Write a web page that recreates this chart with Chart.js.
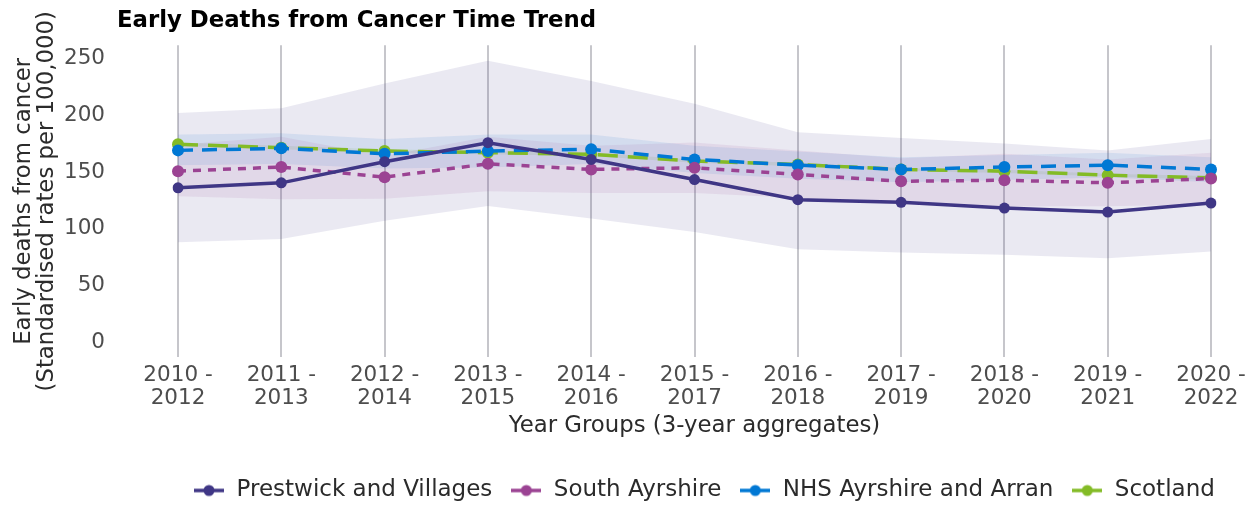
<!DOCTYPE html>
<html>
<head>
<meta charset="utf-8">
<script src="https://cdn.jsdelivr.net/npm/chart.js@4.4.1/dist/chart.umd.min.js"></script>
<style>
  html, body { margin: 0; padding: 0; background: #fff; }
  #wrap { width: 1258px; height: 506px; position: relative; }
</style>
</head>
<body>
<div id="wrap"><canvas id="trendChart"></canvas></div>
<script>
// categories
const yearGroups = [
    ['2010 -', '2012'], ['2011 -', '2013'], ['2012 -', '2014'], ['2013 -', '2015'],
    ['2014 -', '2016'], ['2015 -', '2017'], ['2016 -', '2018'], ['2017 -', '2019'],
    ['2018 -', '2020'], ['2019 -', '2021'], ['2020 -', '2022']
];
const yTicks = [0, 50, 100, 150, 200, 250];

// series (rates per 100,000)
const prestwick      = [136, 140.4, 159, 175.8, 161, 143.3, 125.6, 123.2, 118.2, 114.7, 122.6];
const prestwickLower = [88, 91, 107, 120, 109, 97, 82, 79, 77, 74, 80];
const prestwickUpper = [202, 206, 228, 248, 230, 210, 185, 180, 175, 169, 179];

const southAyrshire      = [150.7, 154.3, 145.4, 157.2, 152.2, 153.7, 147.8, 141.8, 142.7, 140.4, 144.2];
const southAyrshireLower = [128.5, 126, 126.5, 133, 131.5, 131.5, 127, 121.5, 119.7, 119.7, 121.4];
const southAyrshireUpper = [174, 181, 164, 181, 173, 176, 169, 162, 166, 161, 167];

const nhsAA      = [169, 170.8, 166, 168.4, 170, 161, 156, 152.2, 154.3, 156, 152.2];
const nhsAALower = [156, 157, 153, 154, 157, 149, 144, 141, 143, 145, 141];
const nhsAAUpper = [183, 184, 179, 183, 183, 173, 168, 163, 165, 167, 163];

const scotland      = [174.4, 171.4, 168.4, 167, 165.5, 159.6, 156.6, 152.2, 150.7, 147.2, 144.8];
const scotlandLower = [173, 170, 167, 165.5, 164, 158, 155, 151, 149, 146, 143];
const scotlandUpper = [176, 173, 170, 168.5, 167, 161, 158, 153.5, 152, 148.5, 146.5];

const seriesNames = ['Prestwick and Villages', 'South Ayrshire', 'NHS Ayrshire and Arran', 'Scotland'];
const colours = ['#3F3685', '#9B4393', '#0078D4', '#83BB26'];
const bandColours = [
    'rgba(63, 54, 133, 0.11)',
    'rgba(155, 67, 147, 0.10)',
    'rgba(0, 120, 212, 0.10)',
    'rgba(131, 187, 38, 0.12)'
];
const dashes = [[], [8, 7], [15, 9], [20, 10]];

Chart.defaults.font.family = "'DejaVu Sans', sans-serif";

// little line+dot marker for the legend
function legendMarker(colour) {
    const c = document.createElement('canvas');
    c.width = 30;
    c.height = 14;
    const ctx = c.getContext('2d');
    ctx.strokeStyle = colour;
    ctx.lineWidth = 3.5;
    ctx.beginPath();
    ctx.moveTo(0, 7);
    ctx.lineTo(30, 7);
    ctx.stroke();
    ctx.fillStyle = colour;
    ctx.beginPath();
    ctx.arc(15, 7, 5.5, 0, Math.PI * 2);
    ctx.fill();
    return c;
}
const markers = colours.map(legendMarker);

function lineSet(i, values) {
    return {
        label: seriesNames[i],
        data: values,
        borderColor: colours[i],
        backgroundColor: colours[i],
        borderWidth: 3.5,
        borderDash: dashes[i],
        pointRadius: i === 0 ? 5.5 : 6,
        pointBorderWidth: 0,
        pointBackgroundColor: colours[i],
        fill: false,
        tension: 0
    };
}

function bandSet(i, upper, lower) {
    return [{
        label: seriesNames[i] + ' upper',
        data: upper,
        borderWidth: 0,
        pointRadius: 0,
        backgroundColor: bandColours[i],
        fill: '+1',
        tension: 0
    }, {
        label: seriesNames[i] + ' lower',
        data: lower,
        borderWidth: 0,
        pointRadius: 0,
        backgroundColor: bandColours[i],
        fill: false,
        tension: 0
    }];
}

const datasets = [
    lineSet(0, prestwick),
    lineSet(1, southAyrshire),
    lineSet(2, nhsAA),
    lineSet(3, scotland),
    ...bandSet(0, prestwickUpper, prestwickLower),
    ...bandSet(1, southAyrshireUpper, southAyrshireLower),
    ...bandSet(2, nhsAAUpper, nhsAALower),
    ...bandSet(3, scotlandUpper, scotlandLower)
];

// move title and legend to where the original had them
const placeBoxes = {
    id: 'placeBoxes',
    afterLayout(chart) {
        chart.titleBlock.left = 117;
        chart.legend.left = 193 - 18;
        chart.legend.right = chart.width;
    }
};

const config = {
    type: 'line',
    data: { labels: yearGroups, datasets },
    plugins: [placeBoxes],
    options: {
        responsive: true,
        maintainAspectRatio: false,
        animation: false,
        layout: { padding: { left: 0, right: 47, top: 0, bottom: -6 } },
        scales: {
            x: {
                offset: false,
                grid: { display: true, drawTicks: false, color: 'rgba(120, 120, 130, 0.42)', lineWidth: 2 },
                border: { display: false },
                ticks: {
                    color: '#4d4d4d',
                    padding: 6,
                    maxRotation: 0,
                    autoSkip: false,
                    font: { size: 21.5, lineHeight: 1.1 }
                },
                title: {
                    display: true,
                    text: 'Year Groups (3-year aggregates)',
                    color: '#2b2b2b',
                    font: { size: 22.8, lineHeight: 1.2 },
                    padding: { top: -4, bottom: 21 }
                }
            },
            y: {
                min: -13.3,
                max: 261.5,
                grid: { display: false, drawTicks: true, tickLength: 65 },
                border: { display: false },
                afterBuildTicks: s => { s.ticks = yTicks.map(v => ({ value: v })); },
                afterFit: s => { s.width = 178; },
                ticks: {
                    color: '#4d4d4d',
                    padding: 8,
                    font: { size: 21.5 }
                },
                title: {
                    display: true,
                    text: ['Early deaths from cancer', '(Standardised rates per 100,000)'],
                    color: '#2b2b2b',
                    font: { size: 22.8, lineHeight: 1.02 },
                    padding: { top: 12, bottom: 4 }
                }
            }
        },
        plugins: {
            title: {
                display: true,
                text: 'Early Deaths from Cancer Time Trend',
                align: 'start',
                color: '#000',
                font: { size: 22.8, weight: 'bold', lineHeight: 1.2 },
                padding: { top: 7, bottom: 11 }
            },
            legend: {
                position: 'bottom',
                align: 'start',
                labels: {
                    color: '#2b2b2b',
                    font: { size: 23 },
                    usePointStyle: true,
                    pointStyleWidth: 32,
                    padding: 18,
                    filter: item => item.datasetIndex < 4,
                    generateLabels: chart => {
                        const items = Chart.defaults.plugins.legend.labels.generateLabels(chart);
                        items.forEach(it => { if (it.datasetIndex < 4) it.pointStyle = markers[it.datasetIndex]; });
                        return items;
                    }
                }
            },
            tooltip: { enabled: false }
        }
    }
};

const trendChart = new Chart(document.getElementById('trendChart'), config);
</script>
</body>
</html>
